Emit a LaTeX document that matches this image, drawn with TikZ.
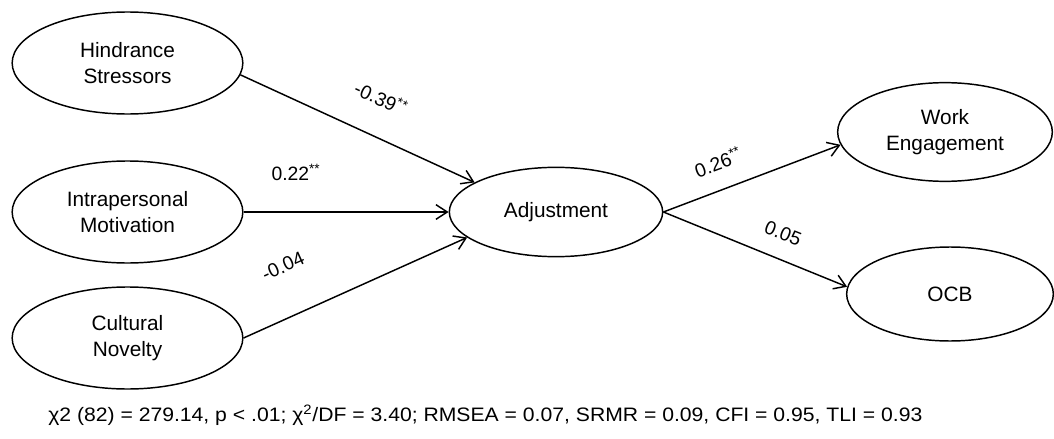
\documentclass[tikz,border=0pt]{standalone}
\usepackage{fontspec}
\setmainfont{Liberation Sans}
\usepackage{graphicx}
\usetikzlibrary{shapes.geometric,arrows.meta}
\begin{document}
\begin{tikzpicture}[x=0.75pt,y=-0.75pt,
  lat/.style={ellipse, draw, line width=1.1pt, inner sep=0pt, align=center,
    font=\fontsize{15.6}{19.5}\selectfont},
  leftlat/.style={lat, minimum width=173pt, minimum height=76.5pt},
  pathline/.style={line width=1.1pt, -{Straight Barb[length=8.5pt,width=11pt]}},
  lab/.style={font=\fontsize{14.5}{17}\selectfont, inner sep=0pt}]
\useasboundingbox (0,0) rectangle (1054,439);

\node[leftlat] (hs) at (127.5,63) {Hindrance\\Stressors};
\node[leftlat] (im) at (127.5,212) {Intrapersonal\\Motivation};
\node[leftlat] (cn) at (127.5,338) {Cultural\\Novelty};
\node[lat, minimum width=160pt, minimum height=67pt] (adj) at (556,212) {Adjustment};
\node[lat, minimum width=161pt, minimum height=74pt] (we) at (945,132) {Work\\Engagement};
\node[lat, minimum width=155pt, minimum height=70.5pt] (ocb) at (950,294) {OCB};

\draw[pathline] (hs.-6) -- (adj.160);
\draw[pathline] (im.east) -- (adj.west);
\draw[pathline] (cn.0) -- (adj.-164);
\draw[pathline] (adj.east) -- (we.187);
\draw[pathline] (adj.east) -- (ocb.176);

\node[lab, rotate=-24.7] (l1) at (381,98) {-0.39\textsuperscript{**}};
\node[lab] (l2) at (296,172) {0.22\textsuperscript{**}};
\node[lab, rotate=24.1] (l3) at (283,266) {-0.04};
\node[lab, rotate=20.4] (l4) at (718,162) {0.26\textsuperscript{**}};
\node[lab, rotate=-21.8] (l5) at (783,233) {0.05};

\node[anchor=base west, inner sep=0pt, font=\fontsize{14.6}{17}\selectfont] (fit) at (48,421)
  {\resizebox{655.5pt}{\height}{χ2 (82) = 279.14, p < .01; χ\textsuperscript{2}/DF = 3.40; RMSEA = 0.07, SRMR = 0.09, CFI = 0.95, TLI = 0.93}};
\end{tikzpicture}
\end{document}
